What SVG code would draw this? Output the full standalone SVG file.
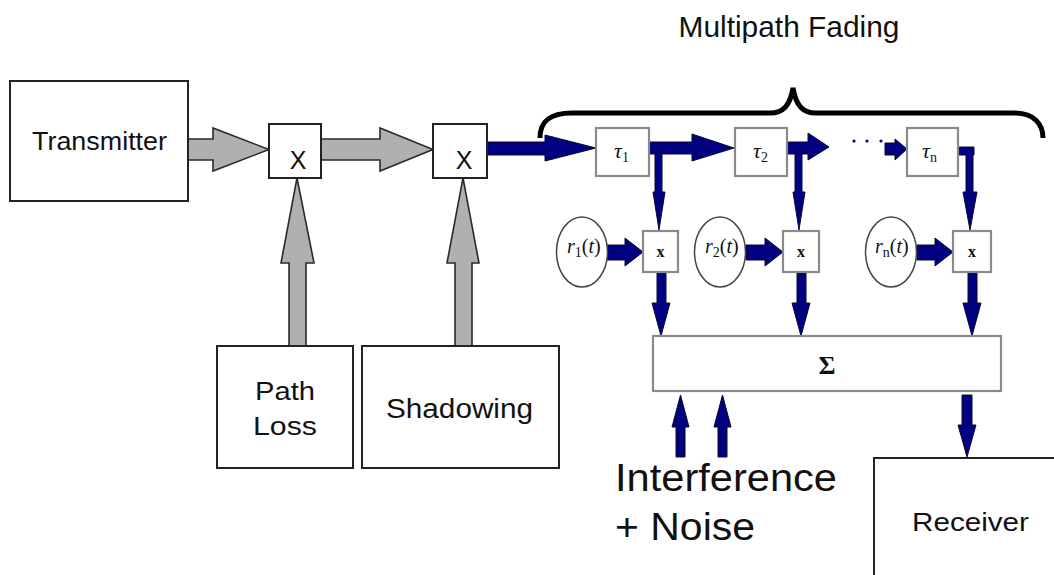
<svg xmlns="http://www.w3.org/2000/svg" width="1054" height="575" viewBox="0 0 1054 575">
<style>
.blk{fill:#fff;stroke:#222;stroke-width:2}
.gbx{fill:#fff;stroke:#8a8a8a;stroke-width:2.2}
.ga{fill:#b0b0b0;stroke:#2a2a2a;stroke-width:1.6;stroke-linejoin:miter}
.na{fill:#000080;stroke:#0a0a30;stroke-width:1}
.t{font-family:"Liberation Sans",Arial,sans-serif;fill:#111}
.m{font-family:"Liberation Serif","Times New Roman",serif;fill:#111}
</style>
<rect width="1054" height="575" fill="#fff"/>

<g id="connectors">
  <!-- grey arrows -->
  <polygon class="ga" points="188,139 213,139 213,128 269,149.5 213,171 213,160 188,160"/>
  <polygon class="ga" points="321,139 380,139 380,128 433,149.5 380,171 380,160 321,160"/>
  <polygon class="ga" points="289,346 289,263 281,263 297,178 314,263 306,263 306,346"/>
  <polygon class="ga" points="455,346 455,263 447,263 463,178 479,263 472,263 472,346"/>
  <!-- main navy chain -->
  <polygon class="na" points="487,142 545,142 545,135 596,148 545,161 545,155 487,155"/>
  <polygon class="na" points="649,142 692,142 692,134 734,148 692,161 692,154 649,154"/>
  <polygon class="na" points="787,142 808,142 808,133 829,147 808,160 808,154 787,154"/>
  <circle cx="854" cy="141" r="1.6" fill="#000080"/>
  <circle cx="867" cy="141" r="1.6" fill="#000080"/>
  <circle cx="881" cy="141" r="1.6" fill="#000080"/>
  <polygon class="na" points="885,143 895,143 895,139 907,149 895,160 895,155 885,155"/>
  <!-- taps down -->
  <polygon class="na" points="655,153 662,153 662,192 665,192 659,230 653,192 655,192"/>
  <polygon class="na" points="795,153 802,153 802,192 805,192 799,230 793,192 795,192"/>
  <polygon class="na" points="958,147 974,147 974,155 973,155 973,192 977,192 970,230 963,192 966,192 966,155 958,155"/>
  <!-- r(t) to multipliers -->
  <polygon class="na" points="607,245 625,245 625,238 643,252 625,266 625,260 607,260"/>
  <polygon class="na" points="746,245 765,245 765,238 783,252 765,266 765,260 746,260"/>
  <polygon class="na" points="917,245 935,245 935,238 953,252 935,266 935,260 917,260"/>
  <!-- multipliers to sum -->
  <polygon class="na" points="657,272 666,272 666,303 670,303 661,336 652,303 657,303"/>
  <polygon class="na" points="797,272 806,272 806,303 810,303 801,336 792,303 797,303"/>
  <polygon class="na" points="968,272 977,272 977,303 981,303 972,336 963,303 968,303"/>
  <!-- interference + noise into sum -->
  <polygon class="na" points="676,457 676,427 672,427 680.5,395 689,427 685,427 685,457"/>
  <polygon class="na" points="718,457 718,427 714,427 722.5,395 731,427 727,427 727,457"/>
  <!-- sum to receiver -->
  <polygon class="na" points="962,395 972,395 972,425 976,425 967,457 958,425 962,425"/>
</g>

<g id="brace">
  <path d="M540,138 C540,121 550,113 572,113 L770,113 C783,113 790,106 793,88 C796,106 803,113 816,113 L1014,113 C1034,113 1043,124 1043,138" fill="none" stroke="#000" stroke-width="5"/>
  <text class="t" x="789" y="37" font-size="29" text-anchor="middle" textLength="221" lengthAdjust="spacingAndGlyphs">Multipath Fading</text>
</g>

<g id="transmitter">
  <rect class="blk" x="10" y="81" width="178" height="120"/>
  <text class="t" x="99.5" y="150" font-size="25" text-anchor="middle" textLength="135" lengthAdjust="spacingAndGlyphs">Transmitter</text>
</g>

<g id="mult1">
  <rect class="blk" x="269" y="124" width="52" height="54"/>
  <text class="t" x="298" y="169" font-size="25" text-anchor="middle">X</text>
</g>
<g id="mult2">
  <rect class="blk" x="433" y="124" width="54" height="54"/>
  <text class="t" x="464" y="169" font-size="25" text-anchor="middle">X</text>
</g>

<g id="pathloss">
  <rect class="blk" x="217" y="346" width="136" height="122"/>
  <text class="t" x="285" y="400" font-size="26" text-anchor="middle" textLength="60" lengthAdjust="spacingAndGlyphs">Path</text>
  <text class="t" x="285" y="435" font-size="26" text-anchor="middle" textLength="64" lengthAdjust="spacingAndGlyphs">Loss</text>
</g>
<g id="shadowing">
  <rect class="blk" x="362" y="346" width="197" height="122"/>
  <text class="t" x="459.5" y="418" font-size="27" text-anchor="middle" textLength="147" lengthAdjust="spacingAndGlyphs">Shadowing</text>
</g>

<g id="tau1">
  <rect class="gbx" x="596" y="128" width="53" height="48"/>
  <text class="m" x="614" y="158" font-size="22"><tspan font-style="italic">τ</tspan><tspan font-size="14" dy="4">1</tspan></text>
</g>
<g id="tau2">
  <rect class="gbx" x="735" y="128" width="52" height="48"/>
  <text class="m" x="753" y="158" font-size="22"><tspan font-style="italic">τ</tspan><tspan font-size="14" dy="4">2</tspan></text>
</g>
<g id="taun">
  <rect class="gbx" x="907" y="128" width="51" height="48"/>
  <text class="m" x="922" y="158" font-size="22"><tspan font-style="italic">τ</tspan><tspan font-size="14" dy="4">n</tspan></text>
</g>

<g id="r1">
  <ellipse cx="582" cy="252" rx="25.5" ry="35" fill="#fff" stroke="#444" stroke-width="1.5"/>
  <text class="m" x="567" y="253" font-size="20"><tspan font-style="italic">r</tspan><tspan font-size="14" dy="4">1</tspan><tspan dy="-4">(</tspan><tspan font-style="italic">t</tspan><tspan>)</tspan></text>
</g>
<g id="r2">
  <ellipse cx="720" cy="252" rx="25.5" ry="35" fill="#fff" stroke="#444" stroke-width="1.5"/>
  <text class="m" x="705" y="253" font-size="20"><tspan font-style="italic">r</tspan><tspan font-size="14" dy="4">2</tspan><tspan dy="-4">(</tspan><tspan font-style="italic">t</tspan><tspan>)</tspan></text>
</g>
<g id="rn">
  <ellipse cx="891" cy="252" rx="25.5" ry="35" fill="#fff" stroke="#444" stroke-width="1.5"/>
  <text class="m" x="875" y="253" font-size="20"><tspan font-style="italic">r</tspan><tspan font-size="14" dy="4">n</tspan><tspan dy="-4">(</tspan><tspan font-style="italic">t</tspan><tspan>)</tspan></text>
</g>

<g id="x1">
  <rect class="gbx" x="643" y="231" width="35" height="41"/>
  <text class="m" x="660.5" y="257" font-size="16" font-weight="bold" text-anchor="middle">x</text>
</g>
<g id="x2">
  <rect class="gbx" x="783" y="231" width="36" height="41"/>
  <text class="m" x="801" y="257" font-size="16" font-weight="bold" text-anchor="middle">x</text>
</g>
<g id="xn">
  <rect class="gbx" x="953" y="231" width="38" height="41"/>
  <text class="m" x="972" y="257" font-size="16" font-weight="bold" text-anchor="middle">x</text>
</g>

<g id="sum">
  <rect class="gbx" x="653" y="336" width="348" height="55" stroke-width="2.6"/>
  <text class="m" x="827" y="374" font-size="26" font-weight="bold" text-anchor="middle">Σ</text>
</g>

<g id="noise">
  <text class="t" x="615" y="491" font-size="38" textLength="222" lengthAdjust="spacingAndGlyphs">Interference</text>
  <text class="t" x="615" y="540" font-size="38" textLength="140" lengthAdjust="spacingAndGlyphs">+ Noise</text>
</g>

<g id="receiver">
  <rect class="blk" x="874" y="458" width="190" height="130"/>
  <text class="t" x="970.5" y="531" font-size="25" text-anchor="middle" textLength="117" lengthAdjust="spacingAndGlyphs">Receiver</text>
</g>
</svg>
